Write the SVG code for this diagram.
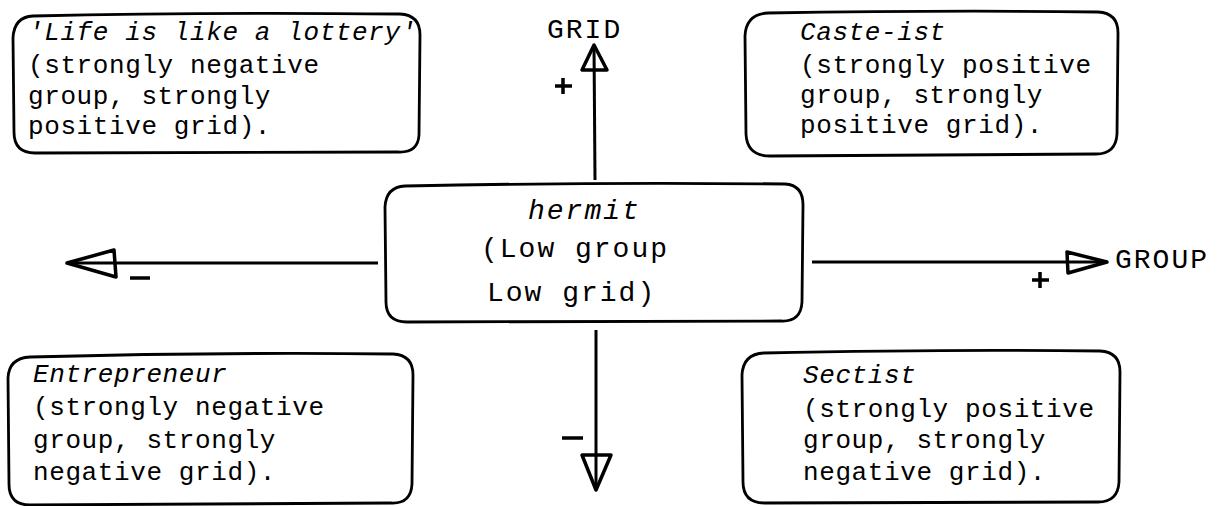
<svg xmlns="http://www.w3.org/2000/svg" width="1222" height="506" viewBox="0 0 1222 506">
<style>
.box{fill:none;stroke:#000;stroke-width:2.8;stroke-linejoin:round}
.ln{fill:none;stroke:#000;stroke-width:3}
.hd{fill:none;stroke:#000;stroke-width:3.5;stroke-linejoin:round}
.t{font-family:"Liberation Mono","Courier New",monospace;font-size:26px;letter-spacing:0.6px;fill:#000}
.i{font-style:italic}
.c{font-family:"Liberation Mono","Courier New",monospace;font-size:28px;letter-spacing:2px;fill:#000}
.sg{stroke:#000;stroke-width:3.5;fill:none}
</style>
<rect width="1222" height="506" fill="#fff"/>
<g id="connectors">
  <path class="ln" d="M378 263 L67 263"/>
  <path class="hd" d="M67 263 L114 250 L116 277 Z"/>
  <path class="ln" d="M812 262 L1107 262"/>
  <path class="hd" d="M1107 262 L1067 252 L1068 273 Z"/>
  <path class="ln" d="M595 180 L594 45"/>
  <path class="hd" d="M594 45 L582 70 L607 70 Z"/>
  <path class="ln" d="M596 330 L596 490"/>
  <path class="hd" d="M596 490 L582 455 L611 455 Z"/>
</g>
<g id="sign-plus-grid"><path class="sg" d="M555 86 H572 M563 78 V94"/></g>
<g id="sign-minus-group"><path class="sg" d="M130 278 H150"/></g>
<g id="sign-plus-group"><path class="sg" d="M1032 280 H1049 M1040 272 V288"/></g>
<g id="sign-minus-grid"><path class="sg" d="M562 438 H583"/></g>
<g id="label-grid"><text class="c" x="547" y="38">GRID</text></g>
<g id="label-group"><text class="c" x="1115" y="268">GROUP</text></g>
<g id="node-lottery">
  <path class="box" d="M33 16 Q200 12 400 14 Q420 15 420 35 L419 135 Q418 153 398 152 L35 153 Q14 153 14 132 L13 38 Q14 17 33 16 Z"/>
  <text class="t" x="28" y="40"><tspan class="i">'Life is like a lottery'</tspan><tspan x="28" y="73">(strongly negative</tspan><tspan x="28" y="104">group, strongly</tspan><tspan x="28" y="134">positive grid).</tspan></text>
</g>
<g id="node-casteist">
  <path class="box" d="M768 13 Q950 10 1098 12 Q1118 13 1118 33 L1117 134 Q1116 154 1096 154 L770 156 Q747 156 746 134 L745 36 Q746 14 768 13 Z"/>
  <text class="t" x="800" y="40"><tspan class="i">Caste-ist</tspan><tspan x="800" y="73">(strongly positive</tspan><tspan x="800" y="103">group, strongly</tspan><tspan x="800" y="133">positive grid).</tspan></text>
</g>
<g id="node-hermit">
  <path class="box" d="M405 186 Q600 182 785 184 Q803 185 803 205 L802 302 Q801 322 781 321 L407 322 Q386 322 386 302 L385 207 Q386 187 405 186 Z"/>
  <text class="c i" x="528" y="219">hermit</text>
  <text class="c" x="481" y="257">(Low group</text>
  <text class="c" x="487" y="301">Low grid)</text>
</g>
<g id="node-entrepreneur">
  <path class="box" d="M30 357 Q220 352 393 354 Q413 355 413 375 L412 484 Q411 504 391 503 L30 505 Q9 505 9 484 L8 378 Q9 358 30 357 Z"/>
  <text class="t" x="33" y="382"><tspan class="i">Entrepreneur</tspan><tspan x="33" y="415">(strongly negative</tspan><tspan x="33" y="448">group, strongly</tspan><tspan x="33" y="480">negative grid).</tspan></text>
</g>
<g id="node-sectist">
  <path class="box" d="M764 353 Q950 349 1100 351 Q1120 352 1120 372 L1119 482 Q1118 502 1098 502 L765 503 Q743 503 743 482 L742 375 Q743 354 764 353 Z"/>
  <text class="t" x="803" y="383"><tspan class="i">Sectist</tspan><tspan x="803" y="417">(strongly positive</tspan><tspan x="803" y="448">group, strongly</tspan><tspan x="803" y="480">negative grid).</tspan></text>
</g>
</svg>
